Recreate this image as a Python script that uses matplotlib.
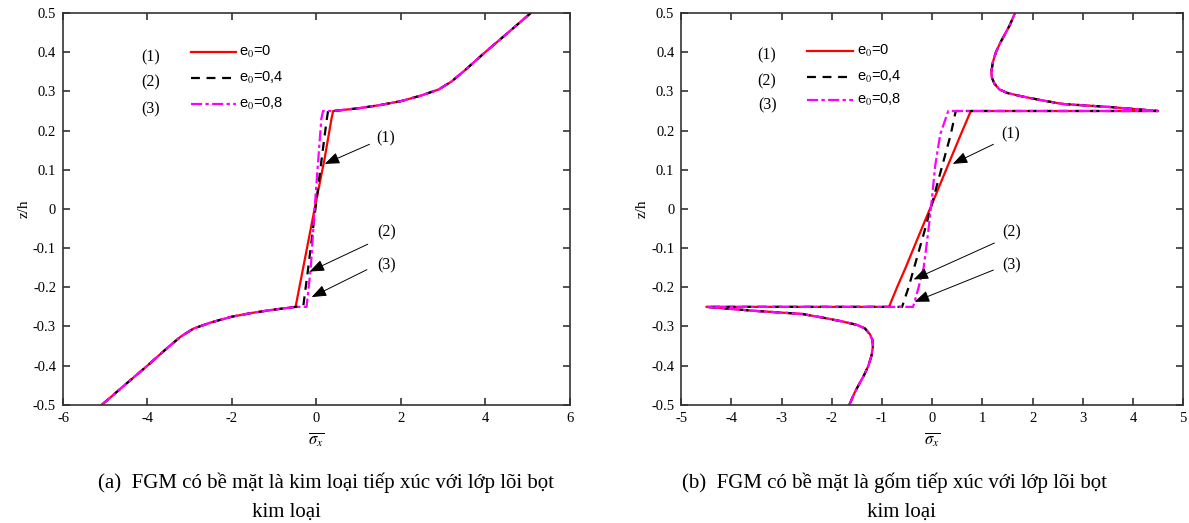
import numpy as np
import matplotlib.pyplot as plt

'''
Stress distribution sigma_x through the thickness z/h of an FGM sandwich plate
with a metal foam core, for porosity e0 = 0, 0.4, 0.8
'''

plt.rcParams['font.family'] = ['Liberation Serif', 'DejaVu Serif']
plt.rcParams['mathtext.fontset'] = 'stix'
plt.rcParams['axes.unicode_minus'] = False

# ---- panel (a): metal-rich faces ----
a_top_x = [0.40, 1.0, 1.5, 2.0, 2.5, 2.9, 3.2, 3.5, 4.0, 4.5, 5.08]
a_top_z = [0.25, 0.257, 0.265, 0.275, 0.29, 0.305, 0.325, 0.352, 0.40, 0.446, 0.5]
a_bot_x = [-5.08, -4.5, -4.0, -3.5, -3.2, -2.9, -2.5, -2.0, -1.5, -1.0, -0.49]
a_bot_z = [-0.5, -0.446, -0.40, -0.352, -0.325, -0.305, -0.29, -0.275, -0.265, -0.257, -0.25]
a_core_z = [-0.25, -0.15, 0.0, 0.13, 0.23, 0.25]
a_core_x = {
    '0': [-0.49, -0.31, -0.04, 0.20, 0.36, 0.40],
    '0,4': [-0.31, -0.19, -0.02, 0.13, 0.25, 0.28],
    '0,8': [-0.23, -0.13, -0.04, 0.05, 0.12, 0.16],
}

# ---- panel (b): ceramic-rich faces ----
b_top_x = [0.78, 2.0, 3.0, 4.0, 4.5, 3.56, 2.6, 2.2, 1.8, 1.5, 1.34, 1.24, 1.19, 1.18, 1.21, 1.27, 1.36, 1.45, 1.55, 1.65]
b_top_z = [0.25, 0.25, 0.25, 0.25, 0.25, 0.26, 0.268, 0.277, 0.287, 0.296, 0.305, 0.32, 0.335, 0.35, 0.375, 0.40, 0.425, 0.446, 0.47, 0.5]
b_bot_x = [-1.65, -1.55, -1.45, -1.36, -1.27, -1.21, -1.18, -1.19, -1.24, -1.34, -1.5, -1.8, -2.2, -2.6, -3.56, -4.5, -4.0, -3.0, -2.0, -0.86]
b_bot_z = [-0.5, -0.47, -0.446, -0.425, -0.40, -0.375, -0.35, -0.335, -0.32, -0.305, -0.296, -0.287, -0.277, -0.268, -0.26, -0.25, -0.25, -0.25, -0.25, -0.25]
b_core_z = [-0.25, -0.2, -0.15, -0.06, 0.02, 0.11, 0.19, 0.25]
b_core_x = {
    '0': [-0.86, -0.70, -0.53, -0.24, 0.02, 0.31, 0.57, 0.77],
    '0,4': [-0.60, -0.47, -0.36, -0.16, 0.01, 0.20, 0.37, 0.47],
    '0,8': [-0.38, -0.27, -0.17, -0.08, -0.01, 0.06, 0.16, 0.32],
}

e0_keys = ['0', '0,4', '0,8']
styles = {'0': dict(color='red', ls='-'),
          '0,4': dict(color='black', ls=(0, (4, 3))),
          '0,8': dict(color='magenta', ls=(0, (5, 1.5, 1.5, 1.5)))}

z_ticks = [-0.5, -0.4, -0.3, -0.2, -0.1, 0, 0.1, 0.2, 0.3, 0.4, 0.5]
z_labels = ['-0.5', '-0.4', '-0.3', '-0.2', '-0.1', '0', '0.1', '0.2', '0.3', '0.4', '0.5']

captions = [('(a)  FGM có bề mặt là kim loại tiếp xúc với lớp lõi bọt', 'kim loại'),
            ('(b)  FGM có bề mặt là gốm tiếp xúc với lớp lõi bọt', 'kim loại')]
caption_x = [(0.274, 0.241), (0.752, 0.758)]  # centres of line 1 / line 2 (figure fraction)

panels = [
    dict(top=(a_top_x, a_top_z), bot=(a_bot_x, a_bot_z), cz=a_core_z, cx=a_core_x,
         xlim=(-6, 6), xticks=np.arange(-6, 7, 2), pos=[0.053, 0.226, 0.426, 0.749],
         leg_num_x=-3.93, leg_x=(-2.97, -1.91), leg_z=[0.40, 0.334, 0.267],
         ann=[((1.65, 0.18), (1.26, 0.165), (0.2, 0.115)),
              ((1.66, -0.06), (1.22, -0.09), (-0.16, -0.16)),
              ((1.66, -0.145), (1.2, -0.155), (-0.11, -0.225))]),
    dict(top=(b_top_x, b_top_z), bot=(b_bot_x, b_bot_z), cz=b_core_z, cx=b_core_x,
         xlim=(-5, 5), xticks=np.arange(-5, 6, 1), pos=[0.573, 0.226, 0.422, 0.749],
         leg_num_x=-3.29, leg_x=(-2.5, -1.58), leg_z=[0.404, 0.338, 0.277],
         ann=[((1.57, 0.19), (1.22, 0.165), (0.41, 0.115)),
              ((1.59, -0.06), (1.24, -0.087), (-0.37, -0.18)),
              ((1.59, -0.143), (1.22, -0.156), (-0.35, -0.237))]),
]

fig = plt.figure(figsize=(11.89, 5.23), dpi=100)

for p, cap, cxs in zip(panels, captions, caption_x):
    ax = fig.add_axes(p['pos'])
    for k in e0_keys:
        xs = list(p['bot'][0]) + list(p['cx'][k]) + list(p['top'][0])
        zs = list(p['bot'][1]) + list(p['cz']) + list(p['top'][1])
        ax.plot(xs, zs, lw=1.6, **styles[k])

    # legend drawn by hand like the original figure
    for i, k in enumerate(e0_keys):
        z = p['leg_z'][i]
        ax.plot(p['leg_x'], [z, z], lw=1.6, **styles[k])
        ax.text(p['leg_x'][1] + 0.08, z, r'e$_{0}$=' + k, family='Liberation Sans',
                fontsize=10.5, va='center', ha='left')
        ax.text(p['leg_num_x'], z - 0.012, '(%d)' % (i + 1), fontsize=11.5,
                va='center', ha='center')

    for txt_xy, tail, head in p['ann']:
        ax.annotate('', xy=head, xytext=tail,
                    arrowprops=dict(arrowstyle='-|>,head_length=0.9,head_width=0.35',
                                    color='black', lw=0.7, shrinkA=0, shrinkB=0))
    for i, (txt_xy, tail, head) in enumerate(p['ann']):
        ax.text(txt_xy[0], txt_xy[1], '(%d)' % (i + 1), fontsize=11.5,
                ha='center', va='center')

    ax.set_xlim(*p['xlim'])
    ax.set_ylim(-0.5, 0.5)
    ax.set_xticks(p['xticks'])
    ax.set_xticklabels(['%d' % v for v in p['xticks']])
    ax.set_yticks(z_ticks)
    ax.set_yticklabels(z_labels)
    ax.tick_params(direction='in', top=True, right=True, length=5, width=1.2,
                   labelsize=10.5, colors='#333333', labelcolor='black', pad=5)
    for s in ax.spines.values():
        s.set_linewidth(1.2)
        s.set_color('#333333')
    ax.set_ylabel('z/h', fontsize=11, labelpad=2)
    ax.set_xlabel(r'$\overline{\sigma_x}$', fontsize=12, labelpad=4)

    fig.text(cxs[0], 1 - 488 / 523, cap[0], ha='center', va='baseline', fontsize=15)
    fig.text(cxs[1], 1 - 517 / 523, cap[1], ha='center', va='baseline', fontsize=15)

fig.savefig('out.png', dpi=100)
